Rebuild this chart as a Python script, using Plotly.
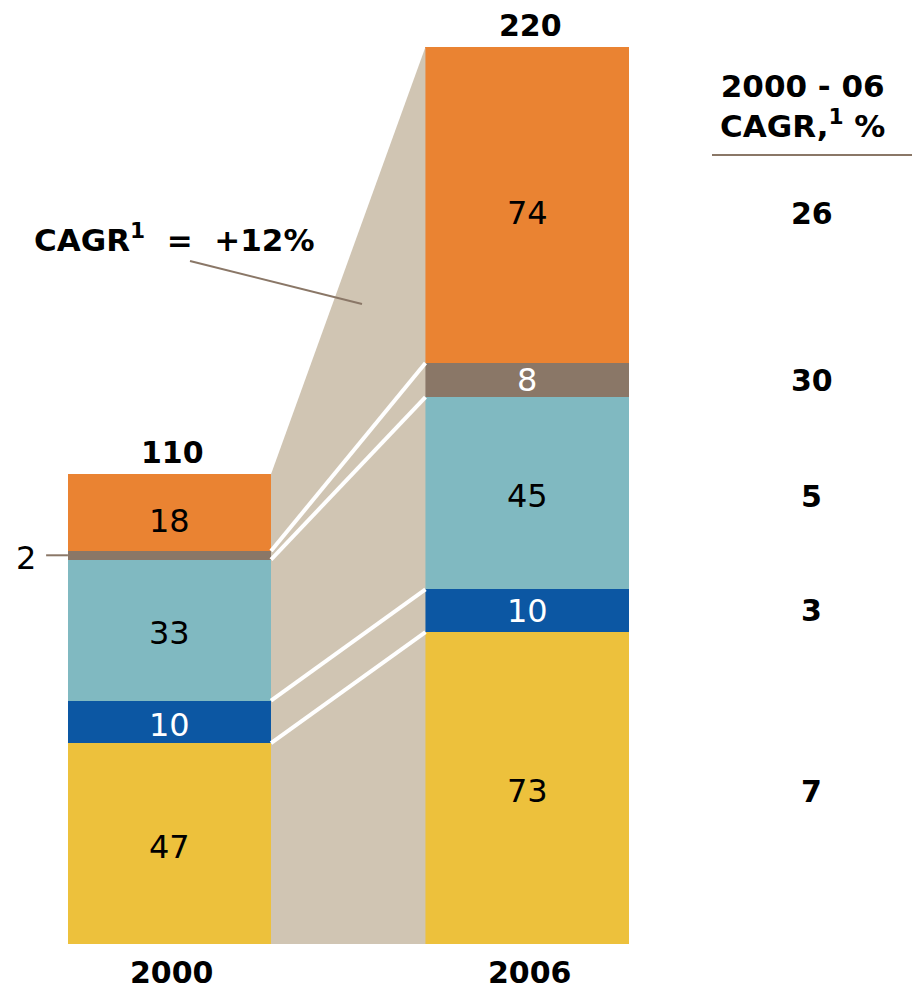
import plotly.graph_objects as go

years = ["2000", "2006"]
segments = ["Segment E", "Segment D", "Segment C", "Segment B", "Segment A"]  # bottom to top
values_2000 = [47, 10, 33, 2, 18]
values_2006 = [73, 10, 45, 8, 74]
totals = [110, 220]
cagr_06 = [7, 3, 5, 30, 26]
colors = ["#EDC13C", "#0C57A3", "#80B9C1", "#8A7767", "#EA8332"]
label_colors = ["black", "white", "black", "white", "black"]
overall_cagr = "+12%"

W, H = 921, 992
BAR_W = 0.568
FONT = "DejaVu Sans"
LINE_GREY = "#8A7767"
ROW_SHIFT = [-3, 0, -3, 0, -8]  # small nudges of label text, in px


def cum(vals):
    out, s = [], 0
    for v in vals:
        s += v
        out.append(s)
    return out


def px(x, y):
    # pixel -> paper coordinates (margins are zero)
    return x / W, 1 - y / H


top_2000 = cum(values_2000)
top_2006 = cum(values_2006)

fig = go.Figure()

# connector wedge between the two bars
x_l, x_r = 0 + BAR_W / 2, 1 - BAR_W / 2
fig.add_trace(
    go.Scatter(
        x=[x_l, x_r, x_r, x_l, x_l],
        y=[0, 0, top_2006[-1], top_2000[-1], 0],
        fill="toself",
        fillcolor="#D0C5B3",
        line=dict(width=0),
        mode="lines",
        hoverinfo="skip",
        showlegend=False,
    )
)

# stacked bars
for i, seg in enumerate(segments):
    fig.add_trace(
        go.Bar(
            x=[0, 1],
            y=[values_2000[i], values_2006[i]],
            width=BAR_W,
            marker=dict(color=colors[i], line=dict(width=0)),
            name=seg,
            showlegend=False,
        )
    )

# white guide lines between segment boundaries
for j in [0, 1, 2, 3]:
    fig.add_trace(
        go.Scatter(
            x=[x_l, x_r],
            y=[top_2000[j], top_2006[j]],
            mode="lines",
            line=dict(color="white", width=4),
            hoverinfo="skip",
            showlegend=False,
        )
    )

annotations = []
# segment labels
for k, (vals, tops) in enumerate([(values_2000, top_2000), (values_2006, top_2006)]):
    for i, v in enumerate(vals):
        mid = tops[i] - v / 2
        if k == 0 and i == 3:
            annotations.append(
                dict(x=-0.40, y=mid, xref="x", yref="y", text=str(v), showarrow=False,
                     xanchor="center", yanchor="middle", yshift=-3,
                     font=dict(family=FONT, size=32, color="black"))
            )
            continue
        annotations.append(
            dict(x=k, y=mid, xref="x", yref="y", text=str(v), showarrow=False,
                 xanchor="center", yanchor="middle",
                 yshift=ROW_SHIFT[i] if k == 1 else min(ROW_SHIFT[i], -3),
                 font=dict(family=FONT, size=32, color=label_colors[i]))
        )

# totals and years
for k, t in enumerate(totals):
    top = [top_2000, top_2006][k][-1]
    annotations.append(
        dict(x=k, y=top, xref="x", yref="y", text=f"<b>{t}</b>", showarrow=False,
             xanchor="center", yanchor="bottom", yshift=2, xshift=3,
             font=dict(family=FONT, size=30, color="black"))
    )
    annotations.append(
        dict(x=k, y=0, xref="x", yref="y", text=f"<b>{years[k]}</b>", showarrow=False,
             xanchor="center", yanchor="top", yshift=-9, xshift=3,
             font=dict(family=FONT, size=30, color="black"))
    )

# CAGR column
for i, c in enumerate(cagr_06):
    mid = top_2006[i] - values_2006[i] / 2
    annotations.append(
        dict(x=1.797, y=mid, xref="x", yref="y", text=f"<b>{c}</b>", showarrow=False,
             xanchor="center", yanchor="middle", yshift=ROW_SHIFT[i],
             font=dict(family=FONT, size=30, color="black"))
    )

hx, hy = px(802, 106)
annotations.append(
    dict(x=hx, y=hy, xref="paper", yref="paper",
         text="<b>2000 - 06<br>CAGR,<sup>1</sup> %</b>", showarrow=False,
         xanchor="center", yanchor="middle",
         font=dict(family=FONT, size=31, color="black"))
)

cx, cy = px(174, 238)
annotations.append(
    dict(x=cx, y=cy, xref="paper", yref="paper",
         text=f"<b>CAGR<sup>1</sup>&nbsp; = &nbsp;{overall_cagr}</b>", showarrow=False,
         xanchor="center", yanchor="middle",
         font=dict(family=FONT, size=31, color="black"))
)

shapes = []
x0, y0 = px(712, 155)
x1, y1 = px(912, 155)
shapes.append(dict(type="line", xref="paper", yref="paper", x0=x0, y0=y0, x1=x1, y1=y1,
                   line=dict(color=LINE_GREY, width=2)))
x0, y0 = px(190, 261)
x1, y1 = px(362, 304)
shapes.append(dict(type="line", xref="paper", yref="paper", x0=x0, y0=y0, x1=x1, y1=y1,
                   line=dict(color=LINE_GREY, width=2)))
gray_mid = top_2000[3] - values_2000[3] / 2
shapes.append(dict(type="line", xref="x", yref="y", x0=-0.345, x1=-BAR_W / 2,
                   y0=gray_mid, y1=gray_mid, line=dict(color=LINE_GREY, width=2)))

fig.update_layout(
    width=W,
    height=H,
    barmode="stack",
    bargap=0,
    margin=dict(l=0, r=0, t=0, b=0),
    plot_bgcolor="white",
    paper_bgcolor="white",
    xaxis=dict(range=[-0.474, 2.102], visible=False, fixedrange=True),
    yaxis=dict(range=[-11.24, 221.0], visible=False, fixedrange=True),
    annotations=annotations,
    shapes=shapes,
    showlegend=False,
)

fig.write_html(
    "out.html",
    config={"displayModeBar": False},
    post_script="document.body.style.margin='0';",
)
